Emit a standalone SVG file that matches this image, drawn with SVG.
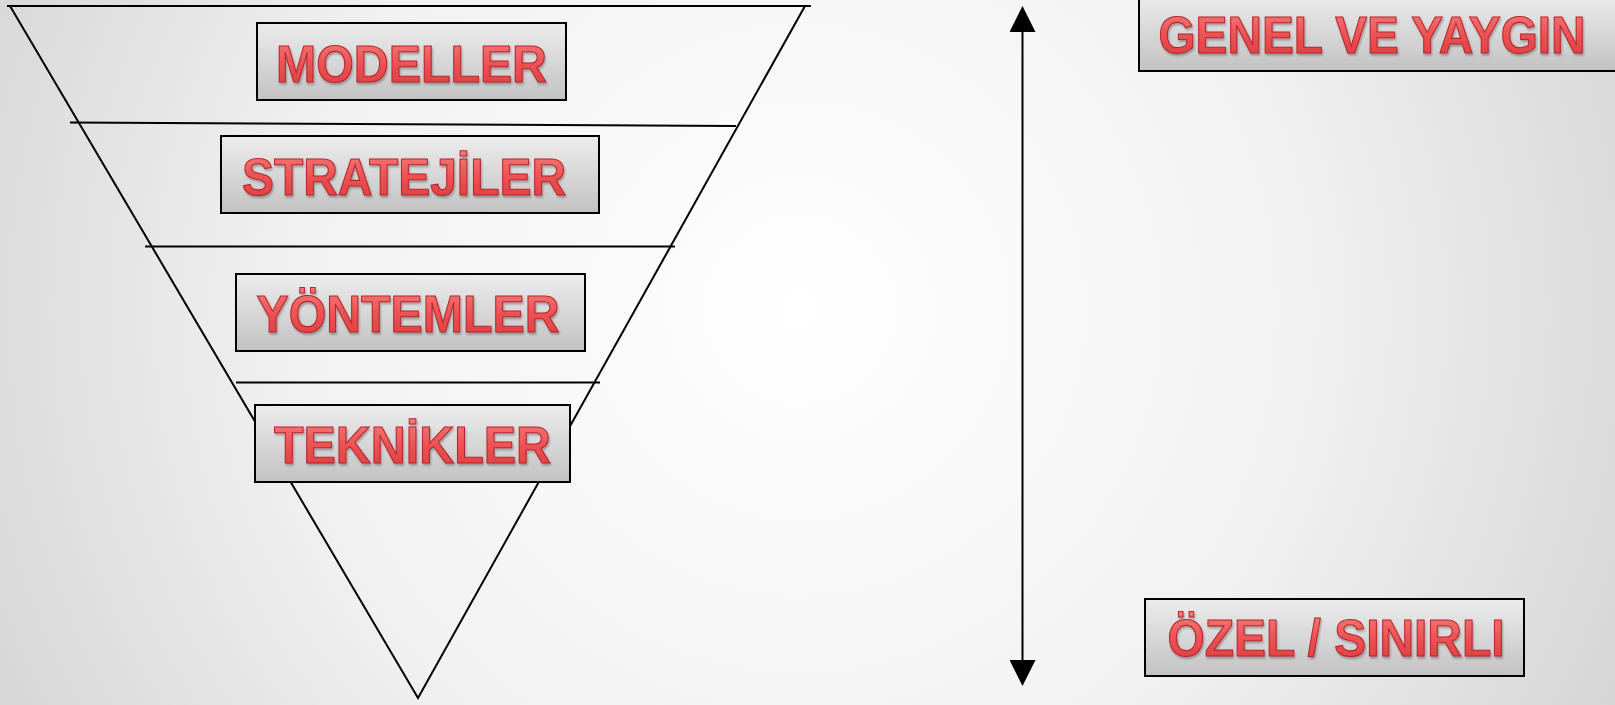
<svg xmlns="http://www.w3.org/2000/svg" width="1615" height="705" viewBox="0 0 1615 705">
<defs>
<radialGradient id="bg" cx="800" cy="310" r="900" gradientUnits="userSpaceOnUse">
<stop offset="0" stop-color="#ffffff"/>
<stop offset="0.55" stop-color="#f2f2f2"/>
<stop offset="1" stop-color="#d6d6d6"/>
</radialGradient>
<linearGradient id="boxGrad" x1="0" y1="0" x2="0" y2="1">
<stop offset="0" stop-color="#ececec"/>
<stop offset="1" stop-color="#c2c2c2"/>
</linearGradient>
<linearGradient id="redGrad" x1="0" y1="0" x2="0" y2="1">
<stop offset="0" stop-color="#f58080"/>
<stop offset="0.5" stop-color="#ec5254"/>
<stop offset="1" stop-color="#dc3a3d"/>
</linearGradient>
<filter id="shadow" x="-5%" y="-10%" width="110%" height="130%">
<feGaussianBlur in="SourceAlpha" stdDeviation="1.2"/>
<feOffset dx="1" dy="1.5" result="b"/>
<feComponentTransfer><feFuncA type="linear" slope="0.3"/></feComponentTransfer>
<feMerge><feMergeNode/><feMergeNode in="SourceGraphic"/></feMerge>
</filter>
<marker id="head" viewBox="0 0 26 26" markerWidth="26" markerHeight="26" refX="0" refY="13" orient="auto-start-reverse" markerUnits="userSpaceOnUse">
<path d="M0,0 L26,13 L0,26 Z" fill="#000"/>
</marker>
</defs>
<style>
.ln{stroke:#000;stroke-width:2;fill:none}
.box{fill:url(#boxGrad);stroke:#000;stroke-width:2}
.lbl{font-family:"Liberation Sans",Arial,sans-serif;font-weight:bold;font-size:52px;fill:url(#redGrad);stroke:#b8262b;stroke-width:1.1;text-anchor:middle;filter:url(#shadow)}
</style>
<rect x="0" y="0" width="1615" height="705" fill="url(#bg)"/>
<g id="funnel">
<line class="ln" x1="7" y1="6" x2="811" y2="6"/>
<polyline class="ln" points="10,6 418,698 805,6"/>
<line class="ln" x1="70" y1="122.5" x2="736" y2="126"/>
<line class="ln" x1="145" y1="246.5" x2="675" y2="246.5"/>
<line class="ln" x1="236" y1="382.5" x2="600" y2="382.5"/>
</g>
<g id="modeller">
<rect class="box" x="257" y="23" width="309" height="77"/>
<text class="lbl" x="411.5" y="81.5" textLength="271" lengthAdjust="spacingAndGlyphs">MODELLER</text>
</g>
<g id="stratejiler">
<rect class="box" x="221" y="136" width="378" height="77"/>
<text class="lbl" x="404" y="194.5" textLength="324" lengthAdjust="spacingAndGlyphs">STRATEJİLER</text>
</g>
<g id="yontemler">
<rect class="box" x="236" y="274" width="349" height="77"/>
<text class="lbl" x="408" y="331.5" textLength="303" lengthAdjust="spacingAndGlyphs">YÖNTEMLER</text>
</g>
<g id="teknikler">
<rect class="box" x="255" y="405" width="315" height="77"/>
<text class="lbl" x="412.5" y="463" textLength="277" lengthAdjust="spacingAndGlyphs">TEKNİKLER</text>
</g>
<g id="genel">
<rect class="box" x="1139" y="-6" width="490" height="77"/>
<text class="lbl" x="1372" y="52.5" textLength="427" lengthAdjust="spacingAndGlyphs">GENEL VE YAYGIN</text>
</g>
<g id="ozel">
<rect class="box" x="1145" y="599" width="379" height="77"/>
<text class="lbl" x="1336" y="656" textLength="337" lengthAdjust="spacingAndGlyphs">ÖZEL / SINIRLI</text>
</g>
<g id="connectors">
<line class="ln" x1="1022.5" y1="660" x2="1022.5" y2="32" marker-start="url(#head)" marker-end="url(#head)"/>
</g>
</svg>
